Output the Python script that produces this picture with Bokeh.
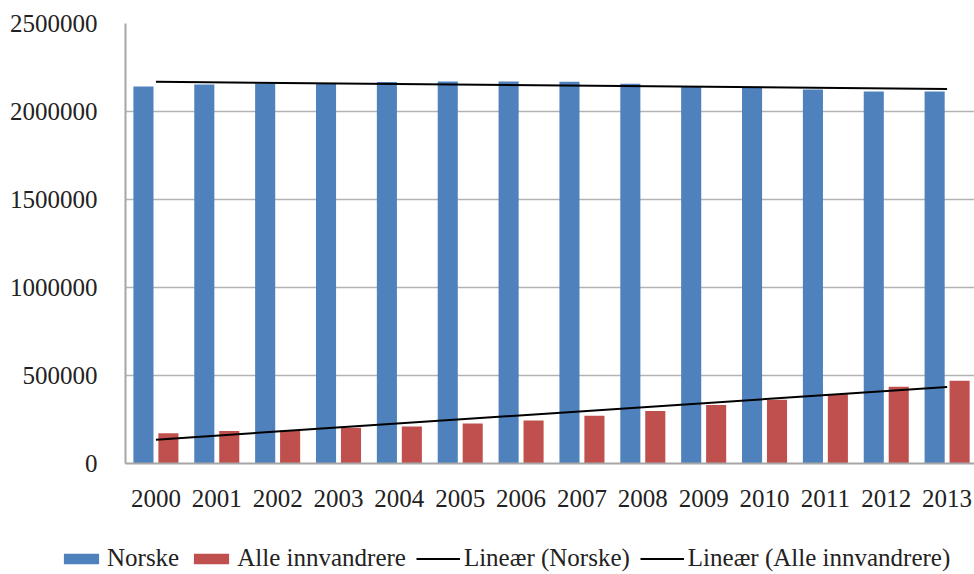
import numpy as np
from bokeh.plotting import figure
from bokeh.layouts import column
from bokeh.models import (ColumnDataSource, FixedTicker, BasicTickFormatter,
                          Legend, LegendItem, Range1d)
from bokeh.transform import dodge
from bokeh.embed import file_html
from bokeh.resources import INLINE

years = [2000, 2001, 2002, 2003, 2004, 2005, 2006, 2007, 2008, 2009, 2010, 2011, 2012, 2013]
norske = [2142000, 2153000, 2159000, 2160000, 2168000, 2170000, 2170000, 2169000,
          2158000, 2142000, 2136000, 2125000, 2114000, 2114000]
innvandrere = [172000, 184000, 187000, 203000, 210000, 227000, 244000, 272000,
               299000, 333000, 362000, 394000, 436000, 470000]
y_ticks = [0, 500000, 1000000, 1500000, 2000000, 2500000]
series_names = ["Norske", "Alle innvandrere", "Lineær (Norske)", "Lineær (Alle innvandrere)"]

FONT = "Liberation Serif"
BLUE = "#4F81BD"
RED = "#C0504D"

src = ColumnDataSource(dict(year=years, norske=norske, innv=innvandrere))

# linear trend lines (least squares)
yr = np.array(years, dtype=float)
cn = np.polyfit(yr, np.array(norske, dtype=float), 1)
ci = np.polyfit(yr, np.array(innvandrere, dtype=float), 1)
trend = ColumnDataSource(dict(x=[yr[0], yr[-1]],
                              tn=[np.polyval(cn, yr[0]), np.polyval(cn, yr[-1])],
                              ti=[np.polyval(ci, yr[0]), np.polyval(ci, yr[-1])]))

p = figure(width=974, height=536, output_backend="svg", toolbar_location=None,
           x_range=Range1d(1999.5, 2013.45), y_range=Range1d(0, 2500000),
           min_border_left=125, min_border_right=0, min_border_top=23,
           min_border_bottom=73)
p.outline_line_color = None
p.background_fill_color = "white"
p.border_fill_color = "white"

p.vbar(x=dodge("year", -0.205), top="norske", width=0.33, source=src,
       fill_color=BLUE, line_color=None)
p.vbar(x=dodge("year", 0.205), top="innv", width=0.33, source=src,
       fill_color=RED, line_color=None)
p.line(x="x", y="tn", source=trend, line_color="black", line_width=2)
p.line(x="x", y="ti", source=trend, line_color="black", line_width=2)

# axes
p.xaxis.ticker = FixedTicker(ticks=years)
p.yaxis.ticker = FixedTicker(ticks=y_ticks)
p.yaxis.formatter = BasicTickFormatter(use_scientific=False)
for ax in (p.xaxis[0], p.yaxis[0]):
    ax.major_tick_line_color = None
    ax.minor_tick_line_color = None
    ax.axis_line_color = "#a6a6a6"
    ax.axis_line_width = 2
    ax.major_label_text_font = FONT
    ax.major_label_text_font_size = "25px"
    ax.major_label_text_color = "#222222"
p.xaxis.major_label_standoff = 20
p.yaxis.major_label_standoff = 22

p.xgrid.grid_line_color = None
p.ygrid.grid_line_color = "#b3b3b3"
p.ygrid.grid_line_width = 1.5

# legend strip below the chart (its own frame, not aligned with the chart's)
lg = figure(width=974, height=38, output_backend="svg", toolbar_location=None,
            x_axis_type=None, y_axis_type=None,
            x_range=Range1d(0, 1), y_range=Range1d(0, 1),
            min_border=0)
lg.outline_line_color = None
lg.xgrid.grid_line_color = None
lg.ygrid.grid_line_color = None
for fig in (p, lg):
    if "frame_align" in fig.properties():
        fig.frame_align = False
# proxy glyphs placed outside the visible range (only their legend swatches show)
proxy = ColumnDataSource(dict(x=[-10, -9], y=[-10, -10]))
g1 = lg.vbar(x="x", top="y", width=0.1, source=proxy, fill_color=BLUE, line_color=None)
g2 = lg.vbar(x="x", top="y", width=0.1, source=proxy, fill_color=RED, line_color=None)
g3 = lg.line(x="x", y="y", source=proxy, line_color="black", line_width=2)
g4 = lg.line(x="x", y="y", source=proxy, line_color="black", line_width=2)

legend = Legend(items=[LegendItem(label=series_names[0], renderers=[g1]),
                       LegendItem(label=series_names[1], renderers=[g2]),
                       LegendItem(label=series_names[2], renderers=[g3]),
                       LegendItem(label=series_names[3], renderers=[g4])],
                orientation="horizontal", location=(59, 2),
                padding=0, margin=0, spacing=10, label_standoff=4,
                glyph_width=44, glyph_height=13,
                border_line_color=None, background_fill_alpha=0,
                label_text_font=FONT, label_text_font_size="25px",
                label_text_color="#222222")
lg.add_layout(legend)

layout = column(p, lg, spacing=0)
open("out.html", "w").write(file_html(layout, INLINE))
